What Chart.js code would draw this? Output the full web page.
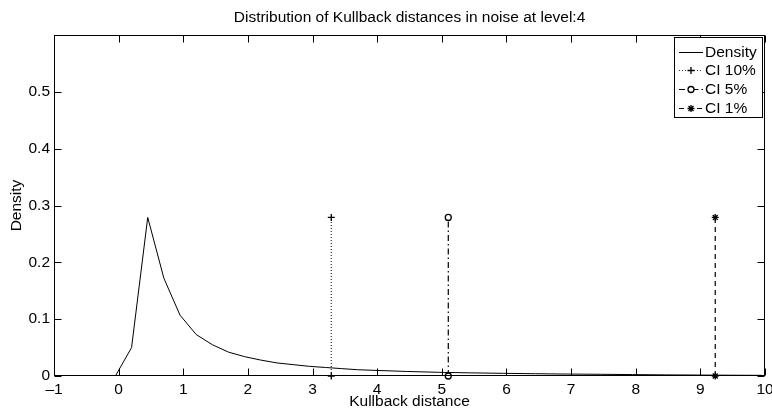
<!DOCTYPE html>
<html>
<head>
<meta charset="utf-8">
<script src="https://cdn.jsdelivr.net/npm/chart.js@4.4.1/dist/chart.umd.min.js"></script>
<style>
html,body{margin:0;padding:0;background:#fff}
#wrap{width:772px;height:411px}
</style>
</head>
<body>
<div id="wrap"><canvas id="chart"></canvas></div>
<script>
/* ---------- DATA ---------- */
const densityX=[-0.05,0.2,0.45,0.7,0.95,1.2,1.45,1.7,1.95,2.2,2.45,2.7,2.95,3.2,3.45,3.7,3.95,4.45,4.95,5.45,5.95,6.45,6.95,7.45,7.95,8.45,8.95,9.45,9.95];
const densityY=[0,0.050,0.279,0.172,0.107,0.073,0.055,0.042,0.034,0.028,0.023,0.020,0.017,0.015,0.013,0.011,0.010,0.008,0.0065,0.0055,0.0047,0.004,0.0034,0.003,0.0025,0.002,0.0017,0.0014,0.0012];
const ciLabels=["CI 10%","CI 5%","CI 1%"];
const ciX=[3.29,5.10,9.23];
const ciTop=0.279;
const xTicks=[-1,0,1,2,3,4,5,6,7,8,9,10];
const yTicks=[0,0.1,0.2,0.3,0.4,0.5];

const FONT="'Liberation Sans', Arial, Helvetica, sans-serif";
const FS=15.5;
const fmt=v=>{const s=String(+v.toFixed(2));return v<0?"\u2013"+s.slice(1):s;};

/* ---------- DATASETS ---------- */
const ciStyles=[
  {dash:[1,2],color:"#333",point:"cross",r:3.5},
  {dash:[6,3,1.5,3],color:"#000",point:"circle",r:3},
  {dash:[5,4],color:"#000",point:"star",r:3.5}
];
const datasets=[{
  label:"Density",
  data:densityX.map((x,i)=>({x,y:densityY[i]})),
  borderColor:"#000",borderWidth:1,pointRadius:0,tension:0,fill:false
}].concat(ciLabels.map((lab,i)=>({
  label:lab,
  data:[{x:ciX[i],y:0},{x:ciX[i],y:ciTop}],
  borderColor:ciStyles[i].color,borderWidth:1.2,borderDash:ciStyles[i].dash,
  pointStyle:ciStyles[i].point,pointRadius:ciStyles[i].r,pointBorderWidth:1.3,
  pointBorderColor:"#000",pointBackgroundColor:"#fff",clip:false,fill:false
})));

/* ---------- TITLE OVER PLOT AREA ---------- */
const titleCenter={id:"titleCenter",afterLayout(chart){
  const t=chart.titleBlock;if(!t)return;
  t.left=chart.chartArea.left;t.right=chart.chartArea.right;
}};

/* ---------- BOX + INWARD TICKS ---------- */
const boxPlugin={id:"box",afterDatasetsDraw(chart){
  const {ctx,chartArea:a,scales:{x,y}}=chart;
  ctx.save();ctx.strokeStyle="#000";ctx.lineWidth=1;ctx.setLineDash([]);
  const L=Math.round(a.left)+0.5,R=Math.round(a.right)-0.5,T=Math.round(a.top)+0.5,B=Math.round(a.bottom)-0.5;
  ctx.strokeRect(L,T,R-L,B-T);
  ctx.beginPath();
  xTicks.forEach(v=>{const p=Math.round(x.getPixelForValue(v))+0.5;
    ctx.moveTo(p,B);ctx.lineTo(p,B-7);ctx.moveTo(p,T);ctx.lineTo(p,T+7);});
  yTicks.forEach(v=>{const p=Math.round(y.getPixelForValue(v))+0.5;
    ctx.moveTo(L,p);ctx.lineTo(L+7,p);ctx.moveTo(R,p);ctx.lineTo(R-7,p);});
  ctx.stroke();ctx.restore();
}};

/* ---------- MATLAB-STYLE LEGEND ---------- */
const legendPlugin={id:"mlegend",afterDraw(chart){
  const {ctx}=chart;
  const bx=674.5,by=37.5,bw=88,bh=80,row=18.7,first=51.5;
  ctx.save();
  ctx.fillStyle="#fff";ctx.fillRect(bx,by,bw,bh);
  ctx.strokeStyle="#000";ctx.lineWidth=1;ctx.setLineDash([]);ctx.strokeRect(bx,by,bw,bh);
  ctx.font=FS+"px "+FONT;ctx.textBaseline="middle";ctx.textAlign="left";
  chart.data.datasets.forEach((ds,i)=>{
    const cy=Math.round(first+i*row)+0.5;
    ctx.save();ctx.strokeStyle=ds.borderColor;ctx.lineWidth=ds.borderWidth;
    ctx.setLineDash(ds.borderDash||[]);
    ctx.beginPath();ctx.moveTo(679,cy);ctx.lineTo(703,cy);ctx.stroke();ctx.restore();
    if(ds.pointRadius){
      ctx.save();ctx.strokeStyle="#000";ctx.fillStyle="#fff";ctx.lineWidth=ds.pointBorderWidth;ctx.setLineDash([]);
      Chart.helpers.drawPoint(ctx,{pointStyle:ds.pointStyle,radius:ds.pointRadius,rotation:0,borderWidth:ds.pointBorderWidth},691,cy);
      ctx.restore();
    }
    ctx.fillStyle="#000";ctx.fillText(ds.label,705,cy);
  });
  ctx.restore();
}};

/* ---------- CHART ---------- */
new Chart(document.getElementById("chart"),{
  type:"line",
  data:{datasets},
  plugins:[titleCenter,boxPlugin,legendPlugin],
  options:{
    responsive:true,maintainAspectRatio:false,animation:false,
    layout:{padding:{left:0,right:7,top:0,bottom:0}},
    plugins:{
      legend:{display:false},tooltip:{enabled:false},
      title:{display:true,text:"Distribution of Kullback distances in noise at level:4",
        color:"#000",font:{family:FONT,size:FS,weight:"normal"},padding:{top:8.7,bottom:7.7}}
    },
    scales:{
      x:{type:"linear",min:-1,max:10,
        afterBuildTicks:s=>{s.ticks=xTicks.map(v=>({value:v}));},
        afterFit:s=>{s.height=35;s.paddingLeft=0;s.paddingRight=0;},
        grid:{display:false,drawTicks:false},border:{display:false},
        ticks:{color:"#000",padding:4,font:{family:FONT,size:FS},maxRotation:0,autoSkip:false,callback:v=>fmt(v)},
        title:{display:true,text:"Kullback distance",color:"#000",font:{family:FONT,size:FS},padding:{top:0,bottom:0}}
      },
      y:{type:"linear",min:0,max:0.6,
        afterBuildTicks:s=>{s.ticks=yTicks.map(v=>({value:v}));},
        afterFit:s=>{s.width=54;s.paddingTop=0;s.paddingBottom=0;},
        grid:{display:false,drawTicks:false},border:{display:false},
        ticks:{color:"#000",padding:4,font:{family:FONT,size:FS},autoSkip:false,callback:v=>fmt(v)},
        title:{display:true,text:"Density",color:"#000",font:{family:FONT,size:FS},padding:{top:7.2,bottom:0}}
      }
    }
  }
});
</script>
</body>
</html>
